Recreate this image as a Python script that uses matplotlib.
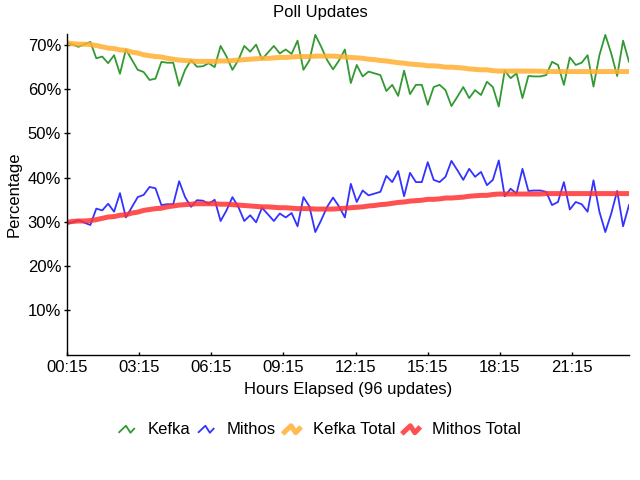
import numpy as np
import matplotlib
matplotlib.use("Agg")
import matplotlib.pyplot as plt
from matplotlib.lines import Line2D
from matplotlib.legend_handler import HandlerBase

plt.rcParams['font.family'] = ['Liberation Sans', 'DejaVu Sans']

# one value per update (96 updates)
kefka = [70.5, 70.1, 69.6, 70.2, 70.7, 67.0, 67.4, 65.9, 67.7, 63.5,
         69.0, 66.7, 64.4, 63.9, 62.1, 62.4, 66.2, 66.0, 66.0, 60.8,
         64.4, 66.6, 65.1, 65.2, 65.9, 65.0, 69.8, 67.4, 64.4, 66.6,
         69.8, 68.5, 70.1, 66.8, 68.3, 69.8, 68.1, 69.0, 68.0, 71.0,
         64.4, 66.5, 72.3, 69.6, 66.6, 64.5, 66.5, 69.0, 61.4, 65.5,
         62.9, 64.0, 63.6, 63.2, 59.6, 61.0, 58.5, 64.2, 58.9, 61.0,
         61.0, 56.5, 60.5, 61.0, 59.8, 56.2, 58.3, 60.5, 58.0, 59.8,
         58.7, 61.7, 60.5, 56.1, 64.2, 62.5, 63.6, 58.0, 63.0, 62.9,
         62.9, 63.2, 66.2, 65.5, 61.0, 67.2, 65.5, 66.0, 67.7, 60.6,
         67.7, 72.3, 68.1, 63.0, 71.0, 66.2]
mithos = [29.5, 29.9, 30.4, 29.8, 29.3, 33.0, 32.6, 34.1, 32.3, 36.5,
          31.0, 33.3, 35.6, 36.1, 37.9, 37.6, 33.8, 34.0, 34.0, 39.2,
          35.6, 33.4, 34.9, 34.8, 34.1, 35.0, 30.2, 32.6, 35.6, 33.4,
          30.2, 31.5, 29.9, 33.2, 31.7, 30.2, 31.9, 31.0, 32.0, 29.0,
          35.6, 33.5, 27.7, 30.4, 33.4, 35.5, 33.5, 31.0, 38.6, 34.5,
          37.1, 36.0, 36.4, 36.8, 40.4, 39.0, 41.5, 35.8, 41.1, 39.0,
          39.0, 43.5, 39.5, 39.0, 40.2, 43.8, 41.7, 39.5, 42.0, 40.2,
          41.3, 38.3, 39.5, 43.9, 35.8, 37.5, 36.4, 42.0, 37.0, 37.1,
          37.1, 36.8, 33.8, 34.5, 39.0, 32.8, 34.5, 34.0, 32.3, 39.4,
          32.3, 27.7, 31.9, 37.0, 29.0, 33.8]
kefka_total = [70.5, 70.3, 70.2, 70.2, 70.1, 69.9, 69.6, 69.3, 69.2, 68.9,
               68.8, 68.4, 68.2, 67.8, 67.6, 67.4, 67.3, 67.0, 66.8, 66.6,
               66.5, 66.4, 66.3, 66.3, 66.3, 66.3, 66.4, 66.4, 66.5, 66.6,
               66.7, 66.8, 66.9, 67.0, 67.0, 67.1, 67.2, 67.2, 67.3, 67.4,
               67.4, 67.4, 67.5, 67.5, 67.5, 67.5, 67.4, 67.3, 67.2, 67.1,
               67.0, 66.8, 66.7, 66.5, 66.4, 66.2, 66.0, 65.9, 65.7, 65.6,
               65.5, 65.3, 65.3, 65.2, 65.0, 65.0, 64.9, 64.8, 64.6, 64.5,
               64.4, 64.4, 64.2, 64.1, 64.1, 64.1, 64.1, 64.1, 64.1, 64.1,
               64.1, 64.0, 64.0, 64.0, 64.0, 64.0, 64.0, 64.0, 64.0, 64.0,
               64.0, 64.0, 64.0, 64.0, 64.0, 64.0]
mithos_total = [29.9, 30.1, 30.2, 30.2, 30.3, 30.5, 30.8, 31.1, 31.2, 31.5,
                31.6, 32.0, 32.2, 32.6, 32.8, 33.0, 33.1, 33.4, 33.6, 33.8,
                33.9, 34.0, 34.1, 34.1, 34.1, 34.1, 34.0, 34.0, 33.9, 33.8,
                33.7, 33.6, 33.5, 33.4, 33.4, 33.3, 33.2, 33.2, 33.1, 33.0,
                33.0, 33.0, 32.9, 32.9, 32.9, 32.9, 33.0, 33.1, 33.2, 33.3,
                33.4, 33.6, 33.7, 33.9, 34.0, 34.2, 34.4, 34.5, 34.7, 34.8,
                34.9, 35.1, 35.1, 35.2, 35.4, 35.4, 35.5, 35.6, 35.8, 35.9,
                36.0, 36.0, 36.2, 36.3, 36.3, 36.3, 36.3, 36.3, 36.3, 36.3,
                36.3, 36.4, 36.4, 36.4, 36.4, 36.4, 36.4, 36.4, 36.4, 36.4,
                36.4, 36.4, 36.4, 36.4, 36.4, 36.4]
tick_labels = ["00:15", "03:15", "06:15", "09:15", "12:15", "15:15", "18:15", "21:15"]
y_ticks = [10, 20, 30, 40, 50, 60, 70]


class ZigZag(HandlerBase):
    # little "/\/" icon instead of a straight legend line
    def create_artists(self, legend, orig_handle, xdescent, ydescent,
                       width, height, fontsize, trans):
        xs = np.array([0.0, 0.45, 0.75, 1.0]) * width - xdescent
        ys = (np.array([0.2, 0.75, 0.15, 0.5]) * height) - ydescent
        line = Line2D(xs, ys)
        self.update_prop(line, orig_handle, legend)
        line.set_transform(trans)
        return [line]


x = np.arange(len(kefka))
fs = 12

fig = plt.figure(figsize=(6.4, 4.8), dpi=100)
ax = fig.add_axes([66.7 / 640, 1 - 354.5 / 480, (629 - 66.7) / 640, 320.5 / 480])

ax.plot(x, kefka, color='#339933', lw=1.3, label='Kefka')
ax.plot(x, mithos, color='#3333ff', lw=1.3, label='Mithos')
ax.plot(x, kefka_total, color='#ffb030', lw=3.6, alpha=0.85, label='Kefka Total')
ax.plot(x, mithos_total, color='#ff3333', lw=3.6, alpha=0.85, label='Mithos Total')

ax.set_xlim(0, len(kefka) - 1)
ax.set_ylim(0, 72.5)
ax.set_xticks(np.arange(len(tick_labels)) * 12.2)
ax.set_xticklabels(tick_labels)
ax.set_yticks(y_ticks)
ax.set_yticklabels([f"{v}%" for v in y_ticks])

for s in ['top', 'right']:
    ax.spines[s].set_visible(False)
for s in ['left', 'bottom']:
    ax.spines[s].set_linewidth(1.0)

ax.tick_params(axis='x', direction='in', length=2.5, width=1, labelsize=fs, pad=4)
ax.tick_params(axis='y', direction='inout', length=4, width=1, labelsize=fs, pad=2)

ax.set_xlabel("Hours Elapsed (96 updates)", fontsize=fs)
ax.xaxis.set_label_coords(0.5, -0.085)
ax.set_ylabel("Percentage", fontsize=fs)
ax.yaxis.set_label_coords(-0.08, 0.5)

fig.text(0.5, 1 - 12 / 480, "Poll Updates", ha='center', va='center', fontsize=fs)

handles, labels = ax.get_legend_handles_labels()
fig.legend(handles, labels, loc='center', bbox_to_anchor=(0.5, 1 - 430 / 480),
           ncol=4, frameon=False, fontsize=fs, handlelength=0.9,
           handletextpad=0.8, columnspacing=0.5,
           handler_map={Line2D: ZigZag()})

fig.savefig("out.png", dpi=100)
